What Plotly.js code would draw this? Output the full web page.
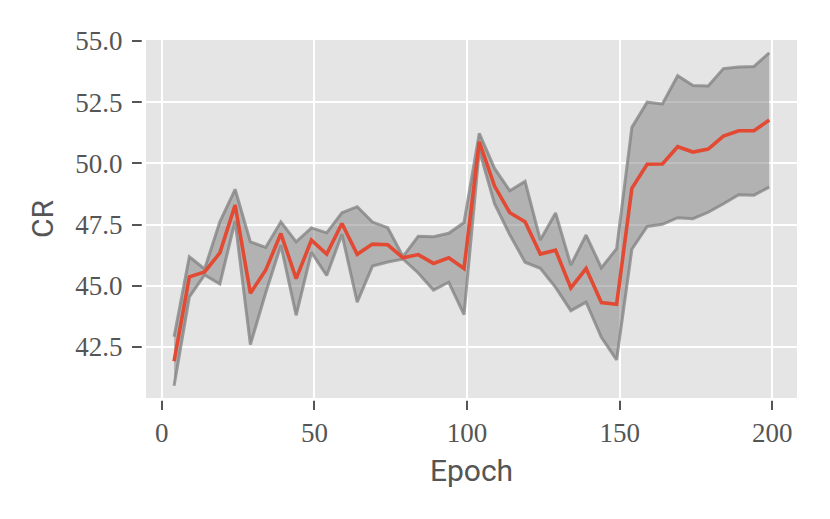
<!DOCTYPE html>
<html>
<head>
<meta charset="utf-8">
<script src="https://cdn.plot.ly/plotly-3.0.1.min.js"></script>
<style>html,body{margin:0;padding:0;background:#fff;}#chart{width:830px;height:519px;}</style>
</head>
<body>
<div id="chart"></div>
<script>
// Epochs
const epochs = [4,9,14,19,24,29,34,39,44,49,54,59,64,69,74,79,84,89,94,99,
                104,109,114,119,124,129,134,139,144,149,154,159,164,169,174,179,184,189,194,199];
// Mean CR
const meanCR = [41.91,45.36,45.56,46.34,48.29,44.69,45.63,47.13,45.29,46.86,
                46.29,47.54,46.28,46.70,46.67,46.14,46.27,45.91,46.14,45.70,
                50.88,49.07,47.98,47.61,46.29,46.45,44.91,45.70,44.31,44.24,
                48.98,49.96,49.97,50.68,50.46,50.58,51.11,51.33,51.33,51.77];
// Upper bound of band
const upperCR = [42.91,46.18,45.68,47.61,48.94,46.79,46.56,47.61,46.79,47.36,
                 47.16,47.98,48.23,47.60,47.37,46.19,47.02,47.00,47.14,47.58,
                 51.23,49.79,48.88,49.26,46.87,47.97,45.84,47.07,45.73,46.51,
                 51.47,52.50,52.43,53.58,53.18,53.16,53.87,53.94,53.96,54.51];
// Lower bound of band
const lowerCR = [40.91,44.54,45.44,45.07,47.64,42.59,44.70,46.65,43.79,46.36,
                 45.42,47.10,44.33,45.80,45.97,46.09,45.52,44.82,45.14,43.82,
                 50.53,48.35,47.08,45.96,45.71,44.93,43.98,44.33,42.89,41.97,
                 46.49,47.42,47.51,47.78,47.74,48.00,48.35,48.72,48.70,49.03];
const xTicks = [0,50,100,150,200];
const xTickText = ['0','50','100','150','200'];
const yTicks = [42.5,45.0,47.5,50.0,52.5,55.0];
const yTickText = ['42.5','45.0','47.5','50.0','52.5','55.0'];

const bandFill = 'rgba(128,128,128,0.5)';
const bandEdge = 'rgba(128,128,128,0.75)';
const traces = [
  {x: epochs, y: lowerCR, type: 'scatter', mode: 'lines',
   line: {color: bandEdge, width: 3}, hoverinfo: 'skip', showlegend: false},
  {x: epochs, y: upperCR, type: 'scatter', mode: 'lines', fill: 'tonexty',
   fillcolor: bandFill, line: {color: bandEdge, width: 3}, hoverinfo: 'skip', showlegend: false},
  {x: epochs, y: meanCR, type: 'scatter', mode: 'lines',
   line: {color: '#E24A33', width: 3.6}, showlegend: false}
];

const tickFont = {family: 'Liberation Serif, serif', size: 27, color: '#555555'};
const titleFont = {family: 'Roboto, sans-serif', size: 30, color: '#555555'};

const layout = {
  width: 830, height: 519,
  margin: {l: 146, r: 33, t: 40, b: 121},
  paper_bgcolor: '#ffffff',
  plot_bgcolor: '#E5E5E5',
  showlegend: false,
  xaxis: {
    range: [-5.2, 208.1],
    tickvals: xTicks, ticktext: xTickText,
    tickfont: tickFont,
    ticks: 'outside', ticklen: 11, tickwidth: 2, tickcolor: '#555555',
    showgrid: true, gridcolor: '#ffffff', gridwidth: 2,
    zeroline: false, showline: false,
    title: {text: 'Epoch', font: titleFont, standoff: 12}
  },
  yaxis: {
    range: [40.41, 55.04],
    tickvals: yTicks, ticktext: yTickText,
    tickfont: tickFont,
    ticks: 'outside', ticklen: 13, tickwidth: 2, tickcolor: '#555555',
    ticklabelstandoff: 4,
    showgrid: true, gridcolor: '#ffffff', gridwidth: 2,
    zeroline: false, showline: false,
    title: {text: 'CR', font: titleFont, standoff: 12}
  },
  shapes: [
    {type: 'rect', xref: 'paper', yref: 'paper', x0: -0.01, x1: 1.0, y0: 0, y1: -0.0075,
     fillcolor: '#ffffff', line: {width: 0}, layer: 'above'},
    {type: 'rect', xref: 'paper', yref: 'paper', x0: 0, x1: -0.0065, y0: 0, y1: 1.0,
     fillcolor: '#ffffff', line: {width: 0}, layer: 'above'}
  ]
};

Plotly.newPlot('chart', traces, layout, {displayModeBar: false, staticPlot: true});
</script>
</body>
</html>
